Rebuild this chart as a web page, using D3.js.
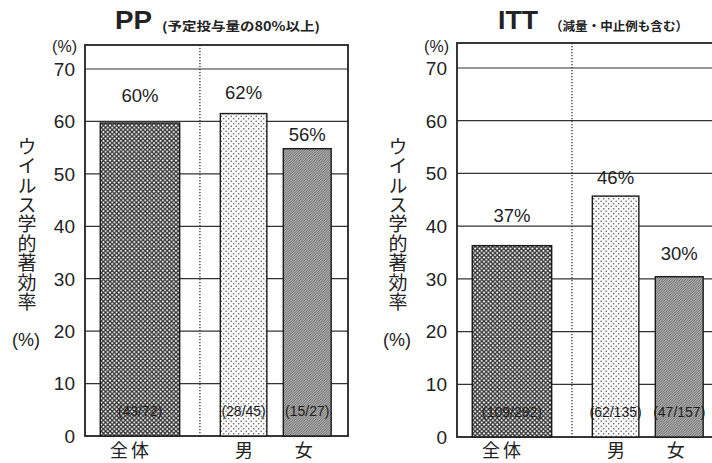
<!DOCTYPE html>
<html><head><meta charset="utf-8">
<script src="https://cdn.jsdelivr.net/npm/d3@7"></script>
<style>
html,body{margin:0;padding:0;background:#fff;}
svg{display:block;}
text{fill:#222;}
</style></head>
<body>
<svg id="chart" width="712" height="463"></svg>
<script>
// ---- data ----
const categories = ["全体", "男", "女"];
const panelTitles = ["PP", "ITT"];
const panelSubtitles = ["(予定投与量の80%以上)", "（減量・中止例も含む）"];
const ppValues = [59.7, 61.5, 54.8];
const ittValues = [36.3, 45.7, 30.4];
const ppLabels = ["60%", "62%", "56%"];
const ittLabels = ["37%", "46%", "30%"];
const ppCounts = ["(43/72)", "(28/45)", "(15/27)"];
const ittCounts = ["(109/292)", "(62/135)", "(47/157)"];
const yTicks = [0, 10, 20, 30, 40, 50, 60, 70];
const yTitle = "ウイルス学的著効率";
const yUnit = "(%)";

// ---- layout ----
const svg = d3.select("#chart");
const jp = "'Noto Sans CJK JP', 'Noto Sans', sans-serif";
const latin = "'Liberation Sans', Arial, sans-serif";

const defs = svg.append("defs");
// crosshatch (全体)
const p1 = defs.append("pattern").attr("id", "pCross").attr("patternUnits", "userSpaceOnUse")
  .attr("width", 4.4).attr("height", 4.4);
p1.append("rect").attr("width", 4.4).attr("height", 4.4).attr("fill", "#fff");
p1.append("path").attr("d", "M0,0L4.4,4.4M4.4,0L0,4.4").attr("stroke", "#2e2e2e").attr("stroke-width", 1.3);
// light dots (男)
const p2 = defs.append("pattern").attr("id", "pDot").attr("patternUnits", "userSpaceOnUse")
  .attr("width", 5).attr("height", 5);
p2.append("rect").attr("width", 5).attr("height", 5).attr("fill", "#fbfbfb");
p2.append("circle").attr("cx", 1.2).attr("cy", 1.2).attr("r", 0.75).attr("fill", "#555");
p2.append("circle").attr("cx", 3.7).attr("cy", 3.7).attr("r", 0.75).attr("fill", "#555");
// dense fine hatch (女)
const p3 = defs.append("pattern").attr("id", "pHatch").attr("patternUnits", "userSpaceOnUse")
  .attr("width", 2.5).attr("height", 2.5);
p3.append("rect").attr("width", 2.5).attr("height", 2.5).attr("fill", "#b0b0b0");
p3.append("path").attr("d", "M-1,1L1,-1M0,2.5L2.5,0M1.5,3.5L3.5,1.5").attr("stroke", "#505050").attr("stroke-width", 0.7);
const fills = ["url(#pCross)", "url(#pDot)", "url(#pHatch)"];

const frameW = 263;
const xFrac = d3.scaleOrdinal().domain(categories).range([0.209, 0.603, 0.845]);
const wFrac = d3.scaleOrdinal().domain(categories).range([0.302, 0.177, 0.182]);
const dividerFrac = 0.437;
const catLabelShift = [-9, 2, -2];

const panels = [
  {title: panelTitles[0], sub: panelSubtitles[0], values: ppValues, labels: ppLabels, counts: ppCounts,
   x0: 85, top: 45, y0: 436, y70: 69, titleX: 115, titleW: 37, subX: 162, subW: 158,
   labelOffsets: [21, 15, 8], ytX: 27},
  {title: panelTitles[1], sub: panelSubtitles[1], values: ittValues, labels: ittLabels, counts: ittCounts,
   x0: 457, top: 43, y0: 437, y70: 68, titleX: 498, titleW: 40, subX: 550, subW: 138,
   labelOffsets: [24, 12, 17], ytX: 398}
];

panels.forEach(P => {
  const g = svg.append("g");
  const x = d3.scaleLinear().domain([0, 1]).range([P.x0, P.x0 + frameW]);
  const y = d3.scaleLinear().domain([0, 70]).range([P.y0, P.y70]);

  // title
  g.append("text").attr("x", P.titleX).attr("y", 29)
    .attr("font-family", latin).attr("font-weight", "bold").attr("font-size", 25)
    .attr("textLength", P.titleW).attr("lengthAdjust", "spacingAndGlyphs")
    .text(P.title);
  g.append("text").attr("x", P.subX).attr("y", 31)
    .attr("font-family", jp).attr("font-weight", "bold").attr("font-size", 12.5)
    .attr("textLength", P.subW).attr("lengthAdjust", "spacingAndGlyphs")
    .text(P.sub);

  // gridlines
  g.selectAll(".grid").data(yTicks.filter(t => t > 0)).join("line")
    .attr("x1", x(0)).attr("x2", x(1))
    .attr("y1", d => y(d)).attr("y2", d => y(d))
    .attr("stroke", "#333").attr("stroke-width", 1.2);

  // divider
  g.append("line").attr("x1", x(dividerFrac)).attr("x2", x(dividerFrac))
    .attr("y1", P.top).attr("y2", P.y0)
    .attr("stroke", "#333").attr("stroke-width", 1.3).attr("stroke-dasharray", "1.3,1.7");

  // frame
  g.append("rect").attr("x", x(0)).attr("y", P.top).attr("width", frameW).attr("height", P.y0 - P.top)
    .attr("fill", "none").attr("stroke", "#222").attr("stroke-width", 1.8);

  // bars
  g.selectAll(".bar").data(categories).join("rect")
    .attr("x", (c) => x(xFrac(c) - wFrac(c) / 2))
    .attr("width", (c) => x(wFrac(c)) - x(0))
    .attr("y", (c, i) => y(P.values[i]))
    .attr("height", (c, i) => y(0) - y(P.values[i]))
    .attr("fill", (c, i) => fills[i])
    .attr("stroke", "#1a1a1a").attr("stroke-width", 1.4);

  // value labels
  g.selectAll(".vl").data(categories).join("text")
    .attr("x", c => x(xFrac(c)))
    .attr("y", (c, i) => y(P.values[i]) - P.labelOffsets[i])
    .attr("text-anchor", "middle").attr("font-family", latin).attr("font-size", 18.5)
    .text((c, i) => P.labels[i]);

  // count labels
  g.selectAll(".cl").data(categories).join("text")
    .attr("x", c => x(xFrac(c)))
    .attr("y", y(0) - 20)
    .attr("text-anchor", "middle").attr("font-family", latin).attr("font-size", 14)
    .style("fill", "#1e1e1e")
    .text((c, i) => P.counts[i]);

  // category labels
  g.selectAll(".cat").data(categories).join("text")
    .attr("x", (c, i) => x(xFrac(c)) + catLabelShift[i])
    .attr("y", 457)
    .attr("text-anchor", "middle").attr("font-family", jp).attr("font-size", 18)
    .attr("letter-spacing", 3)
    .text(c => c);

  // y tick labels
  g.selectAll(".yt").data(yTicks).join("text")
    .attr("x", P.x0 - 10).attr("y", d => y(d))
    .attr("dy", "0.36em").attr("text-anchor", "end")
    .attr("font-family", latin).attr("font-size", 19)
    .text(d => d);

  // (%) unit on top
  g.append("text").attr("x", P.x0 - 8).attr("y", 52)
    .attr("text-anchor", "end").attr("font-family", latin).attr("font-size", 16)
    .text(yUnit);

  // vertical y title (single text, vertical writing)
  g.append("text")
    .attr("x", P.ytX).attr("y", 137)
    .attr("font-family", jp).attr("font-size", 19)
    .style("writing-mode", "vertical-rl").style("text-orientation", "upright")
    .attr("letter-spacing", 0.4)
    .text(yTitle);
  g.append("text").attr("x", P.ytX - 1).attr("y", 346)
    .attr("text-anchor", "middle").attr("font-family", latin).attr("font-size", 18)
    .text(yUnit);
});
</script>
</body></html>
